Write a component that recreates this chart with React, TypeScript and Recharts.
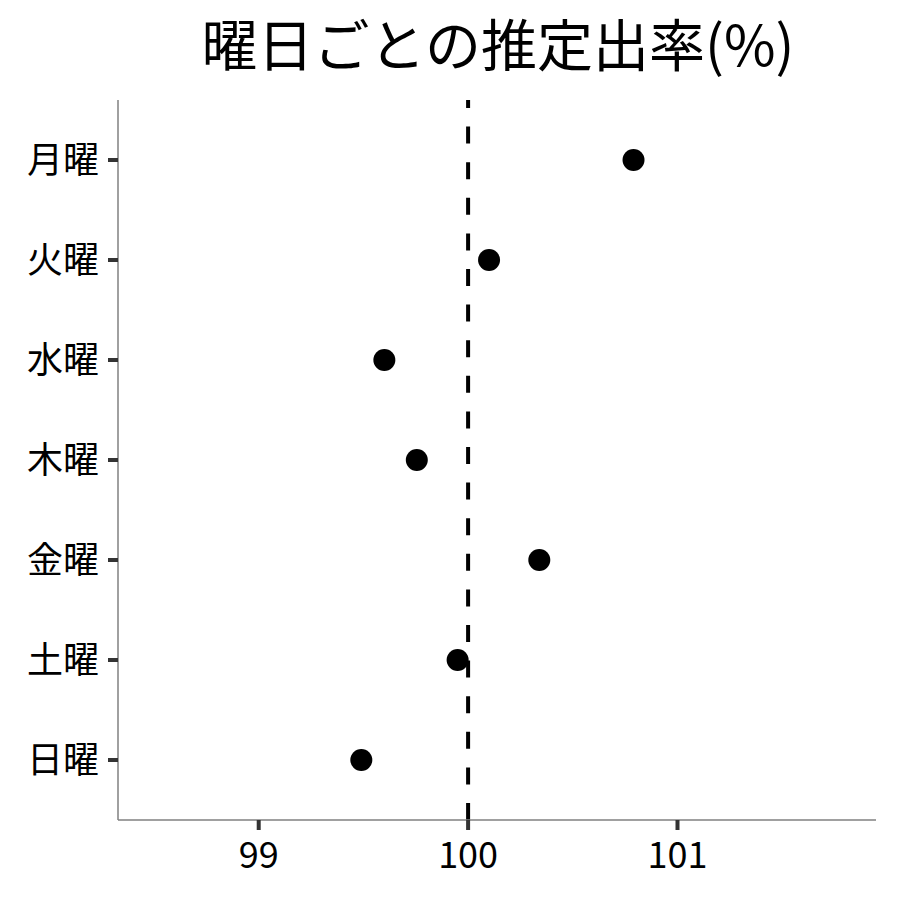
import {
  ReferenceLine,
  Scatter,
  ScatterChart,
  XAxis,
  YAxis,
} from "recharts";

const days = ["月曜", "火曜", "水曜", "木曜", "金曜", "土曜", "日曜"];
const rates = [100.79, 100.1, 99.6, 99.755, 100.34, 99.95, 99.49];
const xTicks = [99, 100, 101];

const data = days.map((day, i) => ({ day, pos: i, rate: rates[i] }));

const font = "'Noto Sans CJK JP', 'Noto Sans', sans-serif";

export default function App() {
  return (
    <div style={{ position: "absolute", left: 0, top: 0, width: 900, height: 900, background: "#fff" }}>
      <svg width={900} height={100} style={{ position: "absolute", left: 0, top: 0 }}>
        <text x={498} y={66} textAnchor="middle" fontSize={56} fontFamily={font} fill="#000">
          曜日ごとの推定出率(%)
        </text>
      </svg>
      <ScatterChart
        width={900}
        height={900}
        margin={{ top: 100, right: 24, bottom: 20, left: 8 }}
        accessibilityLayer={false}
      >
        <XAxis
          type="number"
          dataKey="rate"
          domain={[98.328, 101.948]}
          allowDataOverflow
          ticks={xTicks}
          height={60}
          tickSize={10}
          tickMargin={12}
          axisLine={{ stroke: "#808080", strokeWidth: 1.5 }}
          tickLine={{ stroke: "#333", strokeWidth: 4 }}
          tick={{ fill: "#000", fontSize: 36, fontFamily: font }}
        />
        <YAxis
          type="number"
          dataKey="pos"
          domain={[-0.6, 6.6]}
          allowDataOverflow
          reversed
          ticks={days.map((_, i) => i)}
          tickFormatter={(v: number) => days[v]}
          width={110}
          tickSize={10}
          tickMargin={9}
          axisLine={{ stroke: "#808080", strokeWidth: 1.5 }}
          tickLine={{ stroke: "#333", strokeWidth: 4 }}
          tick={{ fill: "#000", fontSize: 36, fontFamily: font }}
        />
        <Scatter
          data={data}
          fill="#000"
          isAnimationActive={false}
          shape={(props: any) => <circle cx={props.cx} cy={props.cy} r={11} fill="#000" />}
        />
        <ReferenceLine
          x={100}
          stroke="#000"
          strokeWidth={4}
          strokeDasharray="17 18.6"
        />
      </ScatterChart>
    </div>
  );
}
